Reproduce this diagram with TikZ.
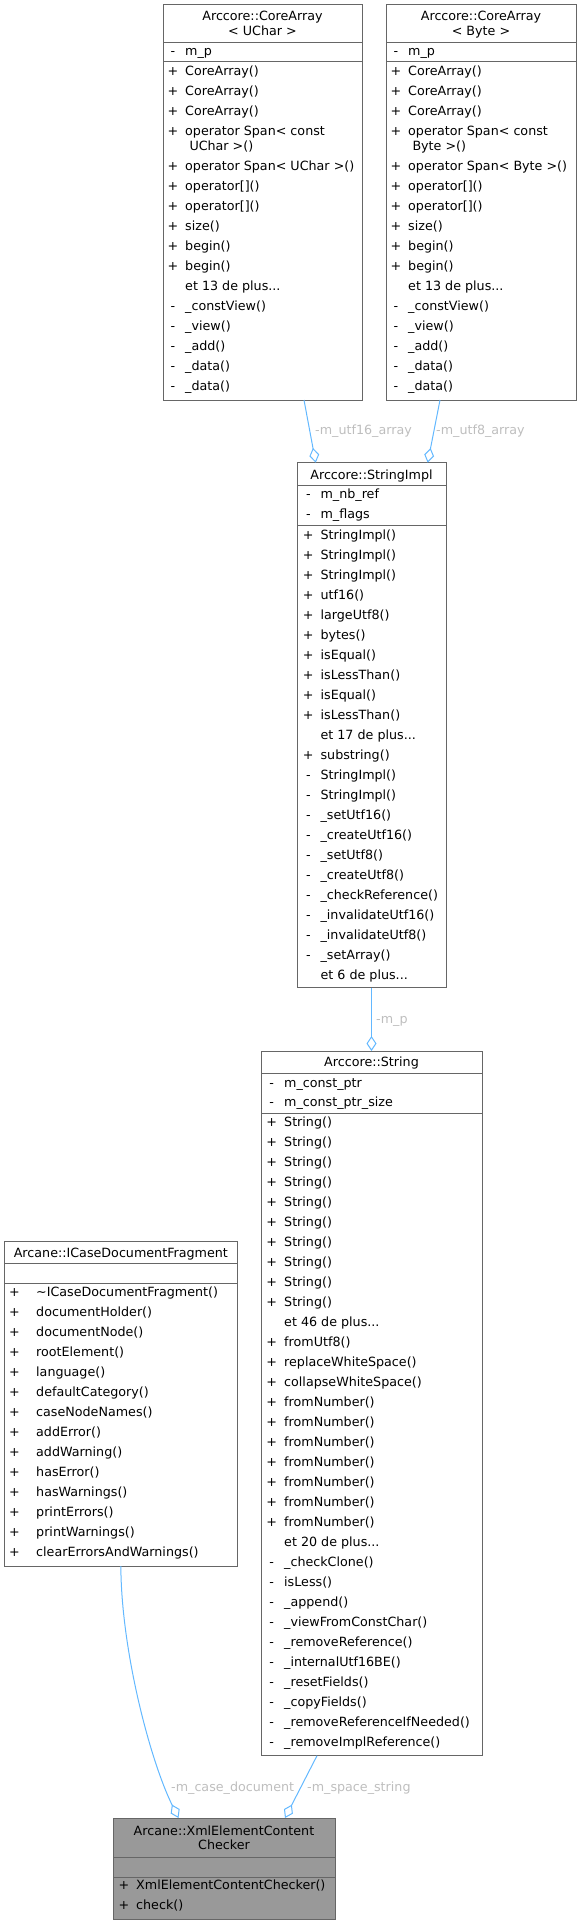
\documentclass[tikz,border=0pt]{standalone}
\usepackage{fontspec}
\setmainfont{DejaVu Sans}
\usetikzlibrary{arrows.meta}

\definecolor{edgeblue}{HTML}{63B8FF}
\definecolor{boxgray}{HTML}{666666}
\definecolor{labelgray}{HTML}{BEBEBE}
\definecolor{fillgray}{HTML}{999999}

\newcommand{\etplus}[1]{et #1 de plus...}

\tikzset{
    classbox/.style={draw=boxgray, line width=1pt, fill=white, inner sep=0pt, outer sep=0pt},
    sepline/.style={draw=boxgray, line width=1pt},
    txt/.style={inner sep=0pt, font=\fontsize{12.7}{15}\selectfont},
    sign/.style={txt, anchor=base},
    memb/.style={txt, anchor=base west},
    ttl/.style={txt, anchor=base},
    assoc/.style={draw=edgeblue, line width=1pt, -{Diamond[open,length=15pt,width=10pt]}},
    elabel/.style={txt, anchor=base west, text=labelgray},
}

\begin{document}
\begin{tikzpicture}[x=1pt, y=-1pt]
    \useasboundingbox (0,0) rectangle (581,1924);

    % CoreArray< UChar > and CoreArray< Byte >
    \node[classbox, minimum width=199pt, minimum height=395pt] (ua) at (262.5,202.5) {};
    \node[classbox, minimum width=190pt, minimum height=395pt] (ba) at (481,202.5) {};
    \foreach \nm/\bx/\ex/\cx/\tp in {ua/163/362/262.5/UChar, ba/386/576/481/Byte} {
        \draw[sepline] (\bx,43) -- (\ex,43);
        \draw[sepline] (\bx,62) -- (\ex,62);
        \node[ttl] (\nm-t1) at (\cx,20.6) {Arccore::CoreArray};
        \node[ttl] (\nm-t2) at (\cx,35.6) {< \tp{} >};
        \node[sign] (\nm-as) at (\bx+10,56) {-};
        \node[memb] (\nm-a) at (\bx+22,56) {m\_p};
        \foreach \s/\t [count=\i from 0] in {+/CoreArray(), +/CoreArray(), +/CoreArray(), +/operator Span< const} {
            \node[sign] (\nm-s\i) at (\bx+10,75.7+20*\i) {\s};
            \node[memb] (\nm-m\i) at (\bx+22,75.7+20*\i) {\t};
        }
        \node[memb] (\nm-wrap) at (\bx+26.3,150.2) {\tp{} >()};
        \foreach \s/\t [count=\i from 0] in {+/operator Span< \tp{} >(), +/operator[](), +/operator[](), +/size(),
                +/begin(), +/begin(), {}/\etplus{13}, -/\_constView(), -/\_view(), -/\_add(), -/\_data(), -/\_data()} {
            \node[sign] (\nm-s2\i) at (\bx+10,170.7+20*\i) {\s};
            \node[memb] (\nm-m2\i) at (\bx+22,170.7+20*\i) {\t};
        }
    }

    % StringImpl
    \node[classbox, minimum width=149pt, minimum height=525pt] (si) at (371.5,725.2) {};
    \draw[sepline] (297,485) -- (446,485);
    \draw[sepline] (297,525.7) -- (446,525.7);
    \node[ttl] (si-t) at (371.5,479) {Arccore::StringImpl};
    \foreach \s/\t [count=\i from 0] in {-/m\_nb\_ref, -/m\_flags} {
        \node[sign] (si-as\i) at (308.3,498.3+20*\i) {\s};
        \node[memb] (si-a\i) at (320.4,498.3+20*\i) {\t};
    }
    \foreach \s/\t [count=\i from 0] in {+/StringImpl(), +/StringImpl(), +/StringImpl(), +/utf16(), +/largeUtf8(),
            +/bytes(), +/isEqual(), +/isLessThan(), +/isEqual(), +/isLessThan(), {}/\etplus{17}, +/substring(),
            -/StringImpl(), -/StringImpl(), -/\_setUtf16(), -/\_createUtf16(), -/\_setUtf8(), -/\_createUtf8(),
            -/\_checkReference(), -/\_invalidateUtf16(), -/\_invalidateUtf8(), -/\_setArray(), {}/\etplus{6}} {
        \node[sign] (si-s\i) at (308.3,539+20*\i) {\s};
        \node[memb] (si-m\i) at (320.4,539+20*\i) {\t};
    }

    % String
    \node[classbox, minimum width=221pt, minimum height=704.7pt] (st) at (371.5,1403.35) {};
    \draw[sepline] (261,1073.7) -- (482,1073.7);
    \draw[sepline] (261,1113.7) -- (482,1113.7);
    \node[ttl] (st-t) at (371.5,1066.7) {Arccore::String};
    \foreach \s/\t [count=\i from 0] in {-/m\_const\_ptr, -/m\_const\_ptr\_size} {
        \node[sign] (st-as\i) at (271.7,1087.3+19.5*\i) {\s};
        \node[memb] (st-a\i) at (284,1087.3+19.5*\i) {\t};
    }
    \foreach \s/\t [count=\i from 0] in {+/String(), +/String(), +/String(), +/String(), +/String(), +/String(),
            +/String(), +/String(), +/String(), +/String(), {}/\etplus{46}, +/fromUtf8(), +/replaceWhiteSpace(),
            +/collapseWhiteSpace(), +/fromNumber(), +/fromNumber(), +/fromNumber(), +/fromNumber(), +/fromNumber(),
            +/fromNumber(), +/fromNumber(), {}/\etplus{20}, -/\_checkClone(), -/isLess(), -/\_append(),
            -/\_viewFromConstChar(), -/\_removeReference(), -/\_internalUtf16BE(), -/\_resetFields(),
            -/\_copyFields(), -/\_removeReferenceIfNeeded(), -/\_removeImplReference()} {
        \node[sign] (st-s\i) at (271.7,1126.3+20*\i) {\s};
        \node[memb] (st-m\i) at (284,1126.3+20*\i) {\t};
    }

    % ICaseDocumentFragment
    \node[classbox, minimum width=232.3pt, minimum height=325pt] (ic) at (120.85,1403.5) {};
    \draw[sepline] (4.7,1263.3) -- (237,1263.3);
    \draw[sepline] (4.7,1283.3) -- (237,1283.3);
    \node[ttl] (ic-t) at (120.85,1257) {Arcane::ICaseDocumentFragment};
    \foreach \t [count=\i from 0] in {\textasciitilde ICaseDocumentFragment(), documentHolder(), documentNode(),
            rootElement(), language(), defaultCategory(), caseNodeNames(), addError(), addWarning(), hasError(),
            hasWarnings(), printErrors(), printWarnings(), clearErrorsAndWarnings()} {
        \node[sign] (ic-s\i) at (14.4,1296.7+20*\i) {+};
        \node[memb] (ic-m\i) at (36,1296.7+20*\i) {\t};
    }

    % XmlElementContentChecker
    \node[classbox, fill=fillgray, minimum width=222pt, minimum height=101pt] (xe) at (224,1868.5) {};
    \draw[sepline] (113,1857) -- (335,1857);
    \draw[sepline] (113,1877) -- (335,1877);
    \node[ttl] (xe-t1) at (224,1835) {Arcane::XmlElementContent};
    \node[ttl] (xe-t2) at (224,1849.5) {Checker};
    \foreach \t [count=\i from 0] in {XmlElementContentChecker(), check()} {
        \node[sign] (xe-s\i) at (124,1889+20*\i) {+};
        \node[memb] (xe-m\i) at (136,1889+20*\i) {\t};
    }

    % associations
    \draw[assoc] ([xshift=41.5pt]ua.south) -- ([xshift=-55.8pt]si.north);
    \draw[assoc] ([xshift=-41pt]ba.south) -- ([xshift=56.2pt]si.north);
    \draw[assoc] (si.south) -- (st.north);
    \draw[assoc] (ic.south) .. controls +(0.3,84) and +(-28.5,-58) .. ([xshift=-45.5pt]xe.north);
    \draw[assoc] ([xshift=-54.5pt]st.south) -- ([xshift=61pt]xe.north);

    % labels
    \node[elabel] (lb-utf16) at (315,434.5) {-m\_utf16\_array};
    \node[elabel] (lb-utf8) at (436,434.5) {-m\_utf8\_array};
    \node[elabel] (lb-p) at (376,1023) {-m\_p};
    \node[elabel] (lb-case) at (171,1791) {-m\_case\_document};
    \node[elabel] (lb-space) at (307,1791) {-m\_space\_string};
\end{tikzpicture}
\end{document}
